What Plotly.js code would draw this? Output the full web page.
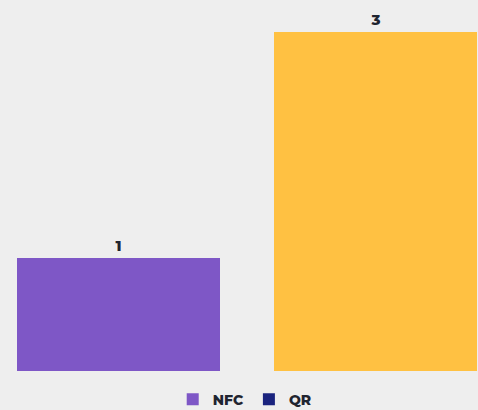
<!DOCTYPE html>
<html>
<head>
<meta charset="utf-8">
<script src="https://cdn.plot.ly/plotly-3.0.1.min.js"></script>
<style>html,body{margin:0;padding:0;background:#eeeeee;}#chart{width:478px;height:410px;}</style>
</head>
<body>
<div id="chart"></div>
<script>
const categories = ["NFC", "QR"];
const seriesNames = ["NFC", "QR"];
const nfcValues = [1];
const qrValues = [3];
const valueLabels = ["1", "3"];

const fontFam = "Montserrat, 'Open Sans', Lato, sans-serif";
const traces = [
  {
    type: "bar", name: seriesNames[0], x: [categories[0]], y: nfcValues,
    text: [valueLabels[0]], textposition: "outside", cliponaxis: false,
    textfont: {family: fontFam, size: 15, color: "#1f2430", weight: 800},
    marker: {color: "#7e57c6"}, hoverinfo: "none"
  },
  {
    type: "bar", name: seriesNames[1], x: [categories[1]], y: qrValues,
    text: [valueLabels[1]], textposition: "outside", cliponaxis: false,
    textfont: {family: fontFam, size: 15, color: "#1f2430", weight: 800},
    marker: {color: "#ffc142"}, hoverinfo: "none"
  }
];
const layout = {
  width: 478, height: 410,
  paper_bgcolor: "#eeeeee", plot_bgcolor: "#eeeeee",
  margin: {l: 0, r: 0, t: 0, b: 0},
  barmode: "stack", bargap: 0.21,
  showlegend: true,
  legend: {orientation: "h", traceorder: "normal", x: 0.513, xanchor: "center", y: 0.003, yanchor: "bottom",
    font: {family: fontFam, size: 14, color: "#1f2430", weight: 800},
    itemwidth: 30, bgcolor: "rgba(0,0,0,0)"},
  xaxis: {visible: false, range: [-0.461, 1.399], type: "category", fixedrange: true},
  yaxis: {visible: false, domain: [39/410, 1], range: [0, 3.283], fixedrange: true, showgrid: false, zeroline: false}
};
Plotly.newPlot("chart", traces, layout, {displayModeBar: false, staticPlot: true}).then(function(gd){
  gd.querySelectorAll(".legend .traces").forEach(function(g){
    const d = g.__data__;
    const name = d && d[0] && d[0].trace ? d[0].trace.name : null;
    if (name === seriesNames[1]) {
      g.querySelectorAll(".legendpoints path").forEach(function(p){ p.style.fill = "#1a237e"; });
    }
  });
  const leg = gd.querySelector(".legend");
  if (leg) {
    const t = leg.getAttribute("transform") || "";
    const m = t.match(/translate\(([-\d.]+)[ ,]+([-\d.]+)\)/);
    if (m) leg.setAttribute("transform", "translate(" + m[1] + "," + (parseFloat(m[2]) + 7) + ")");
  }
});
</script>
</body>
</html>
